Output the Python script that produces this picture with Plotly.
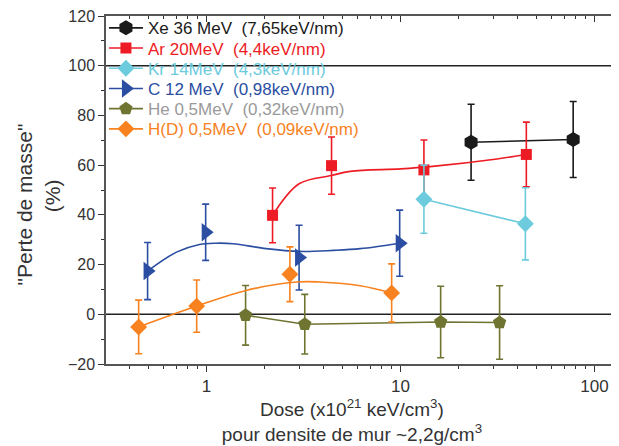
import plotly.graph_objects as go

# ---------------- data ----------------
xe_dose = [23.1, 77.6]
xe_loss = [69.2, 70.3]
xe_err = [15.3, 15.3]

ar_dose = [2.19, 4.41, 13.2, 44.5]
ar_loss = [39.8, 59.8, 58.1, 64.3]
ar_err = [11.0, 11.5, 12.0, 13.0]
ar_fit_dose = [2.19, 3.0, 4.4, 5.5, 10.0, 14.2, 31.4, 44.5]
ar_fit_loss = [39.8, 52.5, 55.8, 57.5, 58.5, 59.4, 62.5, 64.3]

kr_dose = [13.2, 44.0]
kr_loss = [46.3, 36.4]
kr_err = [13.7, 14.5]

c_dose = [0.497, 0.99, 3.0, 9.9]
c_loss = [17.4, 33.0, 22.8, 28.6]
c_err = [11.5, 11.3, 13.0, 13.3]
c_fit_dose = [0.497, 0.70, 0.92, 1.12, 1.37, 2.03, 3.02, 4.5, 6.2, 9.9]
c_fit_loss = [17.4, 25.0, 28.1, 28.6, 28.4, 26.4, 25.3, 25.7, 26.4, 28.6]

he_dose = [1.59, 3.21, 16.1, 32.4]
he_loss = [-0.4, -4.0, -3.1, -3.3]
he_err = [12.0, 12.0, 14.4, 14.8]

h_dose = [0.447, 0.89, 2.69, 9.0]
h_loss = [-5.1, 3.3, 16.1, 8.6]
h_err = [10.8, 10.5, 11.0, 11.7]
h_fit_dose = [0.447, 0.89, 1.60, 2.91, 3.84, 6.2, 9.0]
h_fit_loss = [-5.1, 3.3, 9.6, 13.0, 13.0, 11.5, 8.6]

ref_lines = [0, 100]
x_tickvals = [1, 10, 100]
x_minor_vals = [m * d for d in (0.1, 1, 10) for m in range(2, 10) if m * d > 0.3]
y_tickvals = [-20, 0, 20, 40, 60, 80, 100, 120]

labels = {
    "xe": "Xe 36 MeV&nbsp;&nbsp;(7,65keV/nm)",
    "ar": "Ar 20MeV&nbsp;&nbsp;(4,4keV/nm)",
    "kr": "Kr 14MeV&nbsp;&nbsp;(4,3keV/nm)",
    "c": "C 12 MeV&nbsp;&nbsp;(0,98keV/nm)",
    "he": "He 0,5MeV&nbsp;&nbsp;(0,32keV/nm)",
    "h": "H(D) 0,5MeV&nbsp;&nbsp;(0,09keV/nm)",
}
x_title = ("Dose (x10<sup>21</sup> keV/cm<sup>3</sup>)" + "&nbsp;" * 4 + "<br>"
           "pour densite de mur ~2,2g/cm<sup>3</sup>" + "&nbsp;" * 4)
y_title = "\"Perte de masse\"" + "&nbsp;" * 5 + "<br>(%)" + "&nbsp;" * 2

# ---------------- styles ----------------
FONT = "Liberation Sans, Arial, sans-serif"
col = {
    "xe": "#1a1a1a", "ar": "#ed1c24", "kr": "#6ccbdc",
    "c": "#2b4ea2", "he": "#6f7431", "h": "#f7821f",
}
text_col = dict(col)
text_col["he"] = "#9a9a9a"

sym = {
    "xe": ("hexagon", 15), "ar": ("square", 11), "kr": ("diamond", 13),
    "c": ("triangle-right", 16), "he": ("pentagon", 14), "h": ("diamond", 13),
}

series = [
    ("xe", xe_dose, xe_loss, xe_err, None, None),
    ("ar", ar_dose, ar_loss, ar_err, ar_fit_dose, ar_fit_loss),
    ("kr", kr_dose, kr_loss, kr_err, None, None),
    ("c", c_dose, c_loss, c_err, c_fit_dose, c_fit_loss),
    ("he", he_dose, he_loss, he_err, None, None),
    ("h", h_dose, h_loss, h_err, h_fit_dose, h_fit_loss),
]

fig = go.Figure()

for key, xs, ys, es, fx, fy in series:
    c = col[key]
    s, sz = sym[key]
    if fx is not None:
        fig.add_trace(go.Scatter(x=fx, y=fy, mode="lines", line=dict(color=c, width=1.6, shape="spline", smoothing=1.0),
                                 showlegend=False, hoverinfo="skip"))
    else:
        fig.add_trace(go.Scatter(x=xs, y=ys, mode="lines", line=dict(color=c, width=1.6),
                                 showlegend=False, hoverinfo="skip"))
    fig.add_trace(go.Scatter(
        x=xs, y=ys, mode="markers",
        marker=dict(symbol=s, size=sz, color=c, line=dict(width=0)),
        error_y=dict(type="data", array=es, visible=True, color=c, thickness=1.6, width=3.5),
        showlegend=False,
    ))

# one legend box per entry so the row spacing can follow the reference
row_pitch_px = 20.2
first_row_px = 12.3   # below the top of the plotting area
plot_h_px = 348.0
legend_layout = {}
for i, (key, *_rest) in enumerate(series):
    s, sz = sym[key]
    lname = "legend" if i == 0 else f"legend{i + 1}"
    fig.add_trace(go.Scatter(
        x=[None], y=[None], mode="lines+markers",
        name=f"<span style='color:{text_col[key]}'>{labels[key]}</span>",
        line=dict(color=col[key], width=1.6),
        marker=dict(symbol=s, size=sz, color=col[key]),
        legend=lname,
    ))
    legend_layout[lname] = dict(
        x=-0.004, y=1 - (first_row_px + i * row_pitch_px) / plot_h_px,
        xanchor="left", yanchor="middle", bgcolor="rgba(0,0,0,0)",
        font=dict(size=17, family=FONT), itemwidth=34,
    )

# dummy trace so the top (mirror) axis is drawn
fig.add_trace(go.Scatter(x=[None], y=[None], xaxis="x2", showlegend=False, hoverinfo="skip"))

for v in ref_lines:
    fig.add_shape(type="line", xref="paper", x0=0, x1=1, yref="y", y0=v, y1=v,
                  line=dict(color="#222222", width=1.6), layer="below")

# the page body adds an 8px offset, so the figure is sized to the visible area
fig.update_layout(
    width=611, height=438,
    margin=dict(l=98, r=0, t=8, b=82, autoexpand=False),
    paper_bgcolor="white", plot_bgcolor="white",
    font=dict(family=FONT, size=16, color="#333333"),
    showlegend=True,
    **legend_layout,
    xaxis=dict(
        type="log", range=[-0.518, 2.126], automargin=False, ticklabeloverflow="allow",
        tickvals=x_tickvals, ticktext=[str(v) for v in x_tickvals],
        ticks="outside", ticklen=6, tickwidth=1.2, tickcolor="#333",
        showline=True, linecolor="#555", linewidth=1.5,
        showgrid=False, zeroline=False,
        minor=dict(tickvals=x_minor_vals, ticks="outside", ticklen=3.5, tickcolor="#333", showgrid=False),
        title=dict(text=x_title, font=dict(size=19), standoff=2),
        tickfont=dict(size=17),
    ),
    yaxis=dict(
        range=[-20, 120], tickvals=y_tickvals, automargin=False, ticklabeloverflow="allow",
        ticks="outside", ticklen=6, tickwidth=1.2, tickcolor="#333",
        showline=True, linecolor="#555", linewidth=1.5,
        showgrid=False, zeroline=False,
        minor=dict(dtick=10, ticks="outside", ticklen=3.5, tickcolor="#333"),
        title=dict(text=y_title, font=dict(size=21), standoff=2),
        tickfont=dict(size=16),
    ),
    xaxis2=dict(
        type="log", range=[-0.518, 2.126], overlaying="x", side="top", anchor="y", automargin=False,
        tickvals=x_tickvals, showticklabels=False,
        ticks="inside", ticklen=6, tickwidth=1.2, tickcolor="#333",
        showline=True, linecolor="#555", linewidth=1.5, showgrid=False, zeroline=False,
        minor=dict(tickvals=x_minor_vals, ticks="inside", ticklen=3.5, tickcolor="#333", showgrid=False),
    ),
)

fig.write_html("out.html")
